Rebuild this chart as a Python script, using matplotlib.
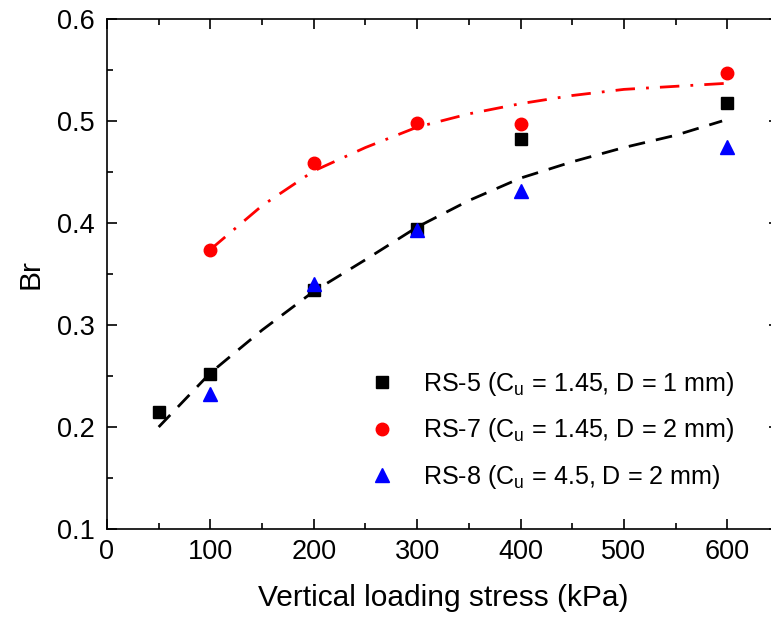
import matplotlib
matplotlib.use("Agg")
import matplotlib.pyplot as plt
from matplotlib.ticker import MultipleLocator

plt.rcParams['font.family'] = ['Liberation Sans', 'DejaVu Sans']
plt.rcParams['mathtext.fontset'] = 'custom'
plt.rcParams['mathtext.rm'] = 'Liberation Sans'
plt.rcParams['mathtext.it'] = 'Liberation Sans'

# Measured data
x_rs5 = [50, 100, 200, 300, 400, 600]
y_rs5 = [0.215, 0.252, 0.334, 0.394, 0.482, 0.518]
x_rs7 = [100, 200, 300, 400, 600]
y_rs7 = [0.374, 0.459, 0.498, 0.497, 0.547]
x_rs8 = [100, 200, 300, 400, 600]
y_rs8 = [0.232, 0.340, 0.393, 0.431, 0.475]

# Fitted curves
fit_black_x = [50, 100, 150, 200, 250, 300, 350, 400, 450, 500, 550, 595]
fit_black_y = [0.200, 0.253, 0.295, 0.333, 0.364, 0.396, 0.422, 0.444, 0.460, 0.474, 0.486, 0.500]
fit_red_x = [100, 150, 200, 250, 300, 350, 400, 450, 500, 550, 600]
fit_red_y = [0.374, 0.417, 0.451, 0.474, 0.494, 0.507, 0.517, 0.525, 0.531, 0.534, 0.537]

labels = [r"RS-5 (C$_\mathregular{u}$ = 1.45, D = 1 mm)",
          r"RS-7 (C$_\mathregular{u}$ = 1.45, D = 2 mm)",
          r"RS-8 (C$_\mathregular{u}$ = 4.5, D = 2 mm)"]

fig = plt.figure(figsize=(7.71, 6.23), dpi=100)
ax = fig.add_axes([107/771, 1-529/623, (779-107)/771, (529-19)/623])

ax.plot(fit_black_x, fit_black_y, color='black', lw=2, dashes=(6, 4))
ax.plot(fit_red_x, fit_red_y, color='red', lw=2, dashes=(7, 4, 1, 4))

ax.plot(x_rs5, y_rs5, 's', color='black', ms=8, ls='none', label=labels[0])
ax.plot(x_rs7, y_rs7, 'o', color='red', ms=9, ls='none', label=labels[1])
ax.plot(x_rs8, y_rs8, '^', color='blue', ms=9.5, ls='none', label=labels[2])

ax.set_xlim(0, 650)
ax.set_ylim(0.1, 0.6)
ax.xaxis.set_major_locator(MultipleLocator(100))
ax.xaxis.set_minor_locator(MultipleLocator(50))
ax.yaxis.set_major_locator(MultipleLocator(0.1))
ax.yaxis.set_minor_locator(MultipleLocator(0.05))
ax.tick_params(which='both', direction='in', top=True, right=True, labelsize=19.5, width=1.2)
ax.tick_params(which='major', length=7)
ax.tick_params(which='minor', length=4)
ax.tick_params(axis='x', pad=7)
ax.tick_params(axis='y', pad=9)
for s in ax.spines.values():
    s.set_linewidth(1.2)

ax.set_xlabel("Vertical loading stress (kPa)", fontsize=21.5, labelpad=14)
ax.set_ylabel("Br", fontsize=21.5, labelpad=9)

leg = ax.legend(loc='lower left', bbox_to_anchor=(0.348, 0.03), frameon=False, fontsize=18.1,
                handletextpad=0.85, labelspacing=0.74, handlelength=1.5)

fig.savefig("out.png", dpi=100)
